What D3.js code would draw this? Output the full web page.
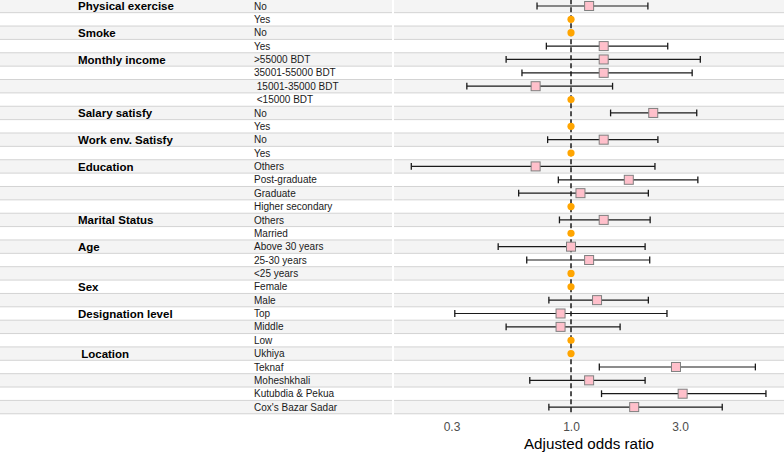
<!DOCTYPE html>
<html><head><meta charset="utf-8">
<script src="https://cdn.jsdelivr.net/npm/d3@7"></script>
<style>body{margin:0;background:#fff;} svg{display:block;font-family:"Liberation Sans",Arial,sans-serif;}</style>
</head><body><svg id="c" width="784" height="452"></svg>
<script>
const groupLabels = ["Physical exercise","","Smoke","","Monthly income","","","","Salary satisfy","","Work env. Satisfy","","Education","","","","Marital Status","","Age","","","Sex","","Designation level","","","\u00a0Location","","","",""];
const levelLabels = ["No","Yes","No","Yes",">55000 BDT","35001-55000 BDT","\u00a015001-35000 BDT","\u00a0<15000 BDT","No","Yes","No","Yes","Others","Post-graduate","Graduate","Higher secondary","Others","Married","Above 30 years","25-30 years","<25 years","Female","Male","Top","Middle","Low","Ukhiya","Teknaf","Moheshkhali","Kutubdia & Pekua","Cox's Bazar Sadar"];
const oddsRatio = [1.20,null,null,1.39,1.39,1.39,0.70,null,2.29,null,1.39,null,0.70,1.79,1.10,null,1.39,null,1.00,1.20,null,null,1.30,0.90,0.90,null,null,2.88,1.20,3.08,1.89];
const ciLower  = [0.71,null,null,0.78,0.52,0.61,0.35,null,1.49,null,0.79,null,0.20,0.88,0.59,null,0.89,null,0.48,0.64,null,null,0.80,0.31,0.52,null,null,1.33,0.66,1.36,0.80];
const ciUpper  = [2.17,null,null,2.65,3.68,3.39,1.52,null,3.55,null,2.40,null,2.33,3.59,2.18,null,2.22,null,2.11,2.21,null,null,2.18,2.63,1.64,null,null,6.41,2.11,7.13,4.59];
const tickValues = [0.3,1.0,3.0];
const axisTitle = "Adjusted odds ratio";

(function(){
const svg = d3.select("#c");
const n = levelLabels.length;
const y0 = -0.7, rowH = 13.37;
const y = d3.scaleBand().domain(d3.range(n)).range([y0, y0 + n*rowH]).padding(0);
const x = d3.scaleLog().domain([0.168, 8.553]).range([394, 784]);
const rows = d3.range(n);

const bands = svg.append("g");
[[0,392],[394,784]].forEach(([xa,xb])=>{
  bands.selectAll(null).data(rows).enter().append("rect")
    .attr("x",xa).attr("width",xb-xa)
    .attr("y",d=>y(d)).attr("height",y.bandwidth())
    .attr("fill",d=>d%2===0?"#f4f4f4":"#ffffff");
  bands.selectAll(null).data(d3.range(n+1)).enter().append("line")
    .attr("x1",xa).attr("x2",xb)
    .attr("y1",d=>y0+d*rowH).attr("y2",d=>y0+d*rowH)
    .attr("stroke","#d3d3d3").attr("stroke-width",1);
});

svg.append("g").selectAll("text").data(rows).enter().append("text")
  .attr("x",78).attr("y",d=>y(d)+y.bandwidth()/2).attr("dy","0.36em")
  .attr("font-size",11.5).attr("font-weight","bold").attr("fill","#000")
  .style("white-space","pre")
  .text(d=>groupLabels[d]);
svg.append("g").selectAll("text").data(rows).enter().append("text")
  .attr("x",254).attr("y",d=>y(d)+y.bandwidth()/2).attr("dy","0.36em")
  .attr("font-size",10).attr("fill","#1a1a1a")
  .style("white-space","pre")
  .text(d=>levelLabels[d]);

svg.append("line").attr("x1",x(1)).attr("x2",x(1))
  .attr("y1",y0).attr("y2",y0+n*rowH)
  .attr("stroke","#333").attr("stroke-width",1.7).attr("stroke-dasharray","5,3");

const est = rows.filter(d=>oddsRatio[d]!==null);
const ref = rows.filter(d=>oddsRatio[d]===null);
const cy = d=>y(d)+y.bandwidth()/2;
const g = svg.append("g");
g.selectAll(".ci").data(est).enter().append("line")
  .attr("x1",d=>x(ciLower[d])).attr("x2",d=>x(ciUpper[d]))
  .attr("y1",cy).attr("y2",cy).attr("stroke","#1a1a1a").attr("stroke-width",1.2);
[ciLower,ciUpper].forEach(arr=>{
  g.selectAll(null).data(est).enter().append("line")
    .attr("x1",d=>x(arr[d])).attr("x2",d=>x(arr[d]))
    .attr("y1",d=>cy(d)-3.4).attr("y2",d=>cy(d)+3.4)
    .attr("stroke","#1a1a1a").attr("stroke-width",1.3);
});
g.selectAll("rect.sq").data(est).enter().append("rect")
  .attr("x",d=>x(oddsRatio[d])-4.5).attr("y",d=>cy(d)-4.5)
  .attr("width",9).attr("height",9)
  .attr("fill","#ffc0cb").attr("stroke","#7f7f7f").attr("stroke-width",1);
g.selectAll("circle").data(ref).enter().append("circle")
  .attr("cx",x(1)).attr("cy",cy).attr("r",3.6).attr("fill","#ffa500");

const ax = svg.append("g").attr("transform","translate(0,414)")
  .call(d3.axisBottom(x).tickValues(tickValues).tickFormat(d3.format(".1f")).tickSize(0).tickPadding(8));
ax.select(".domain").remove();
ax.selectAll("text").attr("font-size",12).attr("fill","#4d4d4d").attr("font-family","Liberation Sans, Arial, sans-serif");
svg.append("text").attr("x",(394+784)/2).attr("y",449).attr("text-anchor","middle")
  .attr("font-size",15.2).attr("fill","#000").text(axisTitle);
})();
</script></body></html>
